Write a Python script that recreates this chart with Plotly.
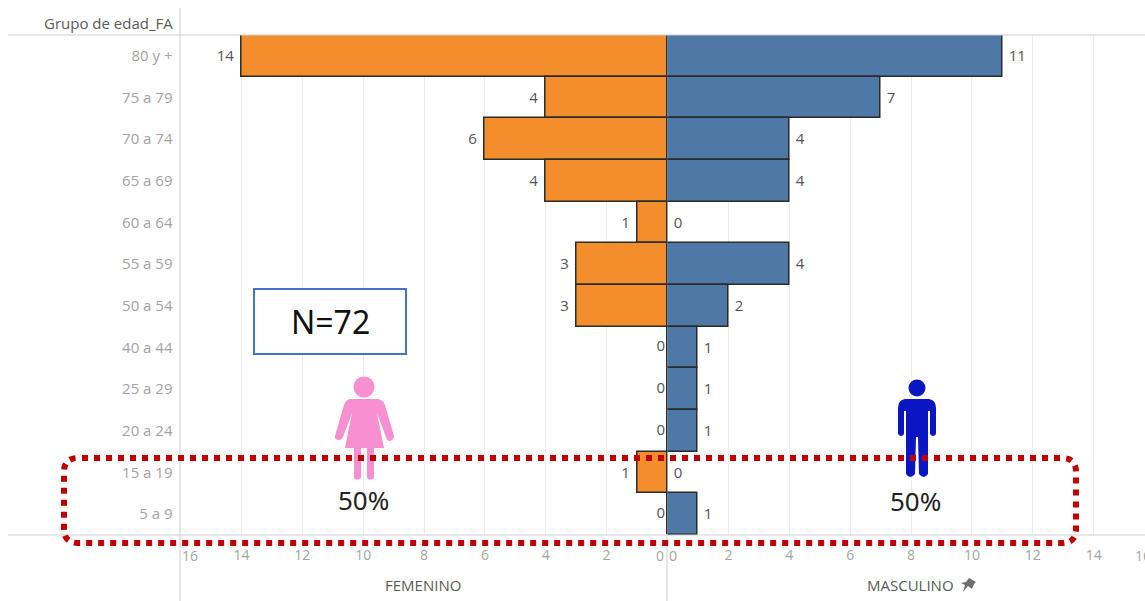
import plotly.graph_objects as go

W, H = 1145, 601
categories = ["80 y +", "75 a 79", "70 a 74", "65 a 69", "60 a 64", "55 a 59",
              "50 a 54", "40 a 44", "25 a 29", "20 a 24", "15 a 19", "5 a 9"]
femenino = [14, 4, 6, 4, 1, 3, 3, 0, 0, 0, 1, 0]
masculino = [11, 7, 4, 4, 0, 4, 2, 1, 1, 1, 0, 1]
left_ticks = [2, 4, 6, 8, 10, 12, 14]
right_ticks = [2, 4, 6, 8, 10, 12, 14]
FONT = "Open Sans"
ORANGE, BLUE = "#F28E2B", "#4E79A7"
GRID = "#EDEDED"
AXIS = "#CFCFCF"
TICK = "#A3A3A3"
VALUE = "#555555"


def fx(px):
    return px / W


def fy(py):
    return 1 - py / H


def pth(*parts):
    # parts: command strings and (x, y) pixel pairs, converted to paper units
    out = []
    for p in parts:
        if isinstance(p, str):
            out.append(p)
        else:
            out.append(f"{fx(p[0]):.5f},{fy(p[1]):.5f}")
    return " ".join(out)


fig = go.Figure()
fig.add_bar(y=categories, x=femenino, orientation="h", xaxis="x", yaxis="y",
            marker=dict(color=ORANGE, line=dict(color="#2b2b2b", width=1.5)), width=1,
            text=[f"{v}\u00a0" if v else "" for v in femenino], textposition="outside",
            cliponaxis=False, textfont=dict(family=FONT, size=15, color=VALUE), showlegend=False)
fig.add_bar(y=categories, x=masculino, orientation="h", xaxis="x2", yaxis="y",
            marker=dict(color=BLUE, line=dict(color="#2b2b2b", width=1.5)), width=1,
            text=[f"\u00a0{v}" for v in masculino], textposition="outside",
            cliponaxis=False, textfont=dict(family=FONT, size=15, color=VALUE), showlegend=False)
# zero labels of the reversed axis have to sit left of the centre line, clear of the blue bars
zero_rows = [c for c, v in zip(categories, femenino) if v == 0]
zero_vals = [v for v in femenino if v == 0]
fig.add_scatter(y=zero_rows, x=zero_vals, xaxis="x", yaxis="y", mode="text",
                text=[f"{v}\u2009" for v in zero_vals],
                textposition="middle left", cliponaxis=False,
                textfont=dict(family=FONT, size=15, color=VALUE), showlegend=False)

shapes = []


def line(x0, y0, x1, y1, color=AXIS, width=1):
    shapes.append(dict(type="line", xref="paper", yref="paper", x0=fx(x0), y0=fy(y0), x1=fx(x1), y1=fy(y1),
                       line=dict(color=color, width=width), layer="above"))


line(8, 35, W, 35)
line(8, 535, W, 535)
line(180, 8, 180, H)
line(667, 535, 667, H)

# N=72 box
shapes.append(dict(type="rect", xref="paper", yref="paper", x0=fx(254), x1=fx(406), y0=fy(354), y1=fy(289),
                   fillcolor="white", line=dict(color="#4472C4", width=2), layer="above"))


def icon(path, color):
    shapes.append(dict(type="path", xref="paper", yref="paper", path=path, fillcolor=color,
                       line=dict(color=color, width=0), layer="above"))


def circle(cx, cy, r, color):
    shapes.append(dict(type="circle", xref="paper", yref="paper", x0=fx(cx - r), x1=fx(cx + r),
                       y0=fy(cy + r), y1=fy(cy - r), fillcolor=color, line=dict(width=0), layer="above"))


PINK = "#F78FD0"
circle(364, 387, 10.5, PINK)
icon(pth("M", (350, 399), "L", (378, 399), "Q", (383, 400), (385, 405), "L", (394, 436), "Q", (394, 440), (390, 441),
         "Q", (387, 441), (386, 437), "L", (377, 413), "L", (384, 448), "L", (345, 448), "L", (352, 413), "L", (343, 437),
         "Q", (341, 441), (338, 440), "Q", (334, 439), (335, 436), "L", (344, 405), "Q", (346, 400), (350, 399), "Z"), PINK)
icon(pth("M", (354, 447), "L", (361, 447), "L", (361, 478), "Q", (357, 481), (354, 478), "Z"), PINK)
icon(pth("M", (367, 447), "L", (374, 447), "L", (374, 478), "Q", (370, 481), (367, 478), "Z"), PINK)

NAVY = "#0A16C4"
circle(917, 388, 8.5, NAVY)
icon(pth("M", (905, 399), "L", (929, 399), "Q", (936, 400), (936, 408), "L", (936, 434), "Q", (933, 438), (930, 434),
         "L", (930, 411), "L", (928, 411), "L", (928, 474), "Q", (924, 480), (919, 474), "L", (918, 437), "L", (916, 437),
         "L", (915, 474), "Q", (910, 480), (906, 474), "L", (906, 411), "L", (904, 411), "L", (904, 434), "Q", (901, 438),
         (898, 434), "L", (898, 408), "Q", (898, 400), (905, 399), "Z"), NAVY)

# pin glyph next to MASCULINO
icon(pth("M", (969, 578), "L", (976, 582), "L", (974, 584), "L", (972, 589), "L", (968, 586), "L", (963, 592),
         "L", (965, 585), "L", (961, 583), "L", (966, 582), "Z"), "#6E6E6E")

# dotted red callout
shapes.append(dict(type="path", xref="paper", yref="paper", layer="above",
                   path=pth("M", (82, 458), "L", (1062, 458), "Q", (1076, 458), (1076, 472), "L", (1076, 529),
                            "Q", (1076, 543), (1062, 543), "L", (78, 543), "Q", (64, 543), (64, 529),
                            "L", (64, 472), "Q", (64, 458), (78, 458)),
                   line=dict(color="#C00000", width=6, dash="6px,6px")))

annotations = []


def label(x, y, text, size=14, color=TICK, anchor="center", family=FONT):
    annotations.append(dict(xref="paper", yref="paper", x=fx(x), y=fy(y), text=text, showarrow=False,
                            xanchor=anchor, yanchor="middle", font=dict(family=family, size=size, color=color)))


label(175, 23, "Grupo de edad_FA", size=15, color="#5A5A5A", anchor="right")
label(423, 585, "FEMENINO", size=15, color="#5A5A5A")
label(910, 585, "MASCULINO", size=15, color="#5A5A5A")
label(190, 555, "16")
label(660, 555, "0")
label(673, 555, "0")
label(1133, 555, "16", anchor="left")
label(330, 321, "N=72", size=32, color="#111111", family="Noto Sans")
label(363, 500, "50%", size=26, color="#222222", family="Noto Sans")
label(915, 501, "50%", size=26, color="#222222", family="Noto Sans")

axis_common = dict(showgrid=True, gridcolor=GRID, gridwidth=1, zeroline=False, showline=False,
                   ticks="outside", ticklen=7, tickcolor="rgba(0,0,0,0)",
                   tickfont=dict(family=FONT, size=14, color=TICK), anchor="y")

fig.update_layout(
    width=W, height=H, margin=dict(l=0, r=0, t=0, b=0), paper_bgcolor="white", plot_bgcolor="white",
    bargap=0, barmode="overlay", showlegend=False,
    xaxis=dict(domain=[fx(180.5), fx(667.5)], range=[16, 0], tickvals=left_ticks, **axis_common),
    xaxis2=dict(domain=[fx(667.5), 1], range=[0, (W - 667.5) / 30.44], tickvals=right_ticks, **axis_common),
    yaxis=dict(domain=[fy(535), fy(35)], range=[len(categories) - 0.5, -0.5], categoryorder="array",
               categoryarray=categories, showgrid=False, zeroline=False, showline=False,
               ticks="outside", ticklen=4, tickcolor="rgba(0,0,0,0)",
               tickfont=dict(family=FONT, size=15, color=TICK)),
    shapes=shapes, annotations=annotations,
)
fig.write_html("out.html", config={"displayModeBar": False},
               post_script="document.body.style.margin='0';document.body.style.overflow='hidden';")
